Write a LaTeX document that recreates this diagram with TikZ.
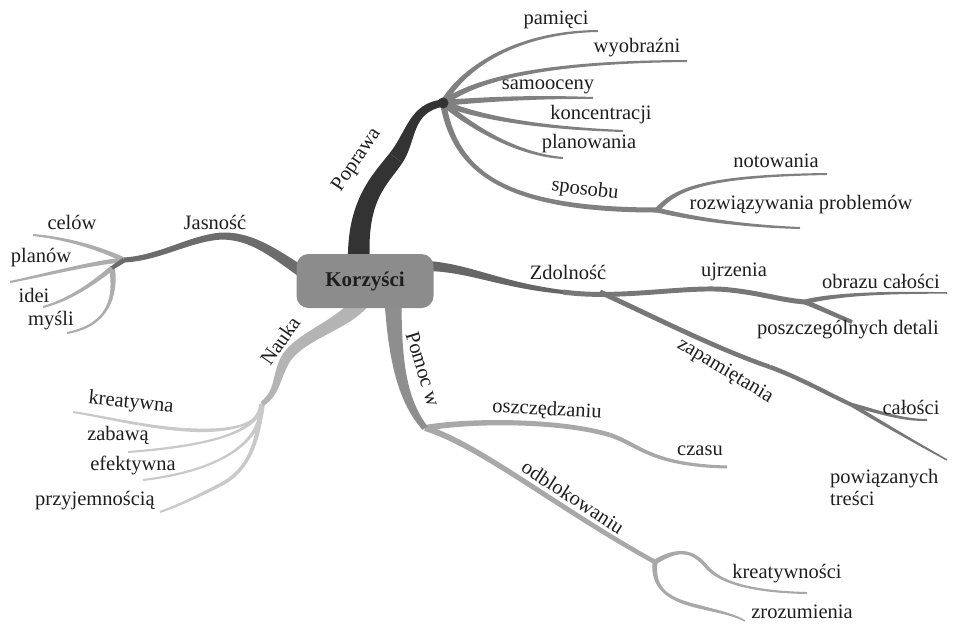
\documentclass[tikz,border=0pt]{standalone}
\usepackage{fontspec}
\setmainfont{Liberation Serif}
\newfontfamily\lblfont{Liberation Serif}
\usetikzlibrary{calc}
\definecolor{txt}{HTML}{1E1E1E}
\definecolor{cPop}{HTML}{333333}
\definecolor{cPopK}{HTML}{808080}
\definecolor{cJas}{HTML}{6C6C6C}
\definecolor{cJasK}{HTML}{ADADAD}
\definecolor{cZd}{HTML}{666666}
\definecolor{cZdK}{HTML}{777777}
\definecolor{cPom}{HTML}{8E8E8E}
\definecolor{cPomK}{HTML}{A8A8A8}
\definecolor{cNau}{HTML}{B4B4B4}
\definecolor{cNauK}{HTML}{C9C9C9}
\definecolor{cBox}{HTML}{8C8C8C}
% tapered cubic: start, control1, control2, end, width at start, width at end, colour
\newcommand\taper[7]{%
  \pgfmathsetmacro\tpa{#5/2}\pgfmathsetmacro\tpb{(2*#5+#6)/6}%
  \pgfmathsetmacro\tpc{(#5+2*#6)/6}\pgfmathsetmacro\tpd{#6/2}%
  \fill[#7] ($(#1)!\tpa pt!90:(#2)$) .. controls ($(#2)!\tpb pt!-90:(#1)$) and ($(#3)!\tpc pt!90:(#4)$) .. ($(#4)!\tpd pt!-90:(#3)$)
    -- ($(#4)!\tpd pt!90:(#3)$) .. controls ($(#3)!\tpc pt!-90:(#4)$) and ($(#2)!\tpb pt!90:(#1)$) .. ($(#1)!\tpa pt!-90:(#2)$) -- cycle;}
\tikzset{
  lbl/.style={font=\lblfont\fontsize{20.5}{22}\selectfont, text=txt, inner sep=0pt},
  centerbox/.style={draw=none, fill=cBox, rounded corners=12pt, minimum width=137pt, minimum height=54pt,
    font=\lblfont\fontsize{21}{24}\selectfont\bfseries, text=txt, inner sep=0pt}
}
\begin{document}
\begin{tikzpicture}[x=1pt,y=-1pt]
\useasboundingbox (0,0) rectangle (955,624);

% ---------- junction coordinates ----------
\coordinate (P0) at (359,264);
\coordinate (Pm) at (396,158);
\coordinate (P1) at (443,103);
\coordinate (S) at (657,210);
\coordinate (J0) at (302,272);
\coordinate (Jh) at (222,236);
\coordinate (J1) at (124,260);
\coordinate (J2) at (112,268);
\coordinate (Z0) at (428,266);
\coordinate (Z1) at (563,292);
\coordinate (Uj) at (730,290);
\coordinate (U) at (805,302);
\coordinate (Zp) at (600,292);
\coordinate (Za) at (770,367);
\coordinate (Zc) at (852,405);
\coordinate (M0) at (393,300);
\coordinate (M) at (425,428);
\coordinate (Os) at (610,435);
\coordinate (O) at (655,562);
\coordinate (Kt) at (705,565);
\coordinate (Zr) at (700,607);
\coordinate (N0) at (362,300);
\coordinate (Nm) at (285,360);
\coordinate (N) at (262,404);
\coordinate (K1) at (190,430);
\coordinate (Pz) at (220,485);

% ---------- end coordinates ----------
\coordinate (ePam) at (598,31);
\coordinate (eWyo) at (687,61);
\coordinate (eSam) at (593,98);
\coordinate (eKon) at (623,131);
\coordinate (ePla) at (563,158);
\coordinate (eNot) at (827,174);
\coordinate (eRoz) at (800,228);
\coordinate (eCel) at (33,235);
\coordinate (ePln) at (10,282);
\coordinate (eIde) at (43,307);
\coordinate (eMys) at (67,333);
\coordinate (eObr) at (947,293);
\coordinate (ePos) at (852,322);
\coordinate (eCal) at (927,420);
\coordinate (ePow) at (947,460);
\coordinate (eCza) at (727,467);
\coordinate (eKrt) at (807,593);
\coordinate (eZro) at (745,621);
\coordinate (eKre) at (73,412);
\coordinate (eZab) at (128,452);
\coordinate (eEfe) at (143,480);
\coordinate (ePrz) at (160,512);

% ---------- Nauka ----------
\taper{N}{262,425}{230,432}{K1}{5}{3.5}{cNauK}
\taper{K1}{150,428}{110,418}{eKre}{3.5}{2}{cNauK}
\taper{N}{258,430}{220,445}{eZab}{5}{2}{cNauK}
\taper{N}{262,440}{225,470}{eEfe}{5}{2}{cNauK}
\taper{N}{258,440}{250,470}{Pz}{5}{3.5}{cNauK}
\taper{Pz}{200,495}{180,505}{ePrz}{3.5}{2}{cNauK}
\taper{N0}{345,325}{300,335}{Nm}{17}{10}{cNau}
\taper{Nm}{275,380}{278,392}{N}{10}{5}{cNau}

% ---------- Pomoc w ----------
\taper{M}{470,420}{560,420}{Os}{6}{4.5}{cPomK}
\taper{Os}{640,445}{650,465}{eCza}{4.5}{3}{cPomK}
\taper{M}{480,445}{560,510}{O}{6}{4.5}{cPomK}
\taper{O}{675,550}{690,548}{Kt}{5}{3.5}{cPomK}
\taper{Kt}{720,585}{760,592}{eKrt}{3.5}{2}{cPomK}
\taper{O}{652,590}{670,600}{Zr}{5}{3.5}{cPomK}
\taper{Zr}{720,612}{735,615}{eZro}{3.5}{1.5}{cPomK}
\taper{M0}{395,360}{402,400}{M}{17}{6}{cPom}

% ---------- Zdolnosc ----------
\taper{U}{830,295}{880,292}{eObr}{5}{1.5}{cZdK}
\taper{U}{820,308}{835,315}{ePos}{5}{4}{cZdK}
\taper{Z1}{620,300}{690,285}{Uj}{5}{5}{cZdK}
\taper{Uj}{760,293}{780,300}{U}{5}{5}{cZdK}
\taper{Zp}{660,320}{720,350}{Za}{5}{4.5}{cZdK}
\taper{Za}{800,378}{830,395}{Zc}{4.5}{4}{cZdK}
\taper{Zc}{885,425}{920,445}{ePow}{4}{1.5}{cZdK}
\taper{Zc}{880,412}{900,420}{eCal}{4}{2}{cZdK}
\taper{Z0}{470,268}{500,285}{Z1}{10}{4}{cZd}

% ---------- Jasnosc ----------
\taper{J1}{100,248}{65,238}{eCel}{5}{2}{cJasK}
\taper{J1}{95,262}{45,275}{ePln}{5}{2}{cJasK}
\taper{J2}{95,282}{70,300}{eIde}{5}{2}{cJasK}
\taper{J2}{116,295}{110,325}{eMys}{6}{2}{cJasK}
\taper{J0}{270,250}{250,236}{Jh}{11}{7}{cJas}
\taper{Jh}{190,238}{160,258}{J1}{7}{5}{cJas}
\taper{J1}{120,263}{116,265}{J2}{5}{4}{cJas}

% ---------- Poprawa ----------
\taper{P1}{465,65}{520,32}{ePam}{6}{2}{cPopK}
\taper{P1}{475,80}{540,62}{eWyo}{6}{2}{cPopK}
\taper{P1}{500,98}{550,97}{eSam}{6}{2}{cPopK}
\taper{P1}{480,118}{540,128}{eKon}{6}{2}{cPopK}
\taper{P1}{475,130}{520,155}{ePla}{6}{2}{cPopK}
\taper{P1}{455,170}{500,210}{S}{6}{5}{cPopK}
\taper{S}{675,190}{700,176}{eNot}{5}{2}{cPopK}
\taper{S}{690,218}{740,226}{eRoz}{5}{2}{cPopK}
\taper{P0}{356,200}{380,180}{Pm}{22}{16}{cPop}
\taper{Pm}{412,136}{410,108}{P1}{16}{7}{cPop}
\fill[cPop] (P1) circle[radius=5.5pt];

% ---------- centre ----------
\node[centerbox] (K) at (365,281) {Korzyści};

% ---------- labels ----------
\node[lbl, rotate=56] (tPop) at (357,160) {Poprawa};
\node[lbl] (tPam) at (556,20) {pamięci};
\node[lbl] (tWyo) at (637,48) {wyobraźni};
\node[lbl] (tSam) at (548,87) {samooceny};
\node[lbl] (tKon) at (601,115) {koncentracji};
\node[lbl] (tPla) at (589,144) {planowania};
\node[lbl, rotate=-7] (tSpo) at (585,190) {sposobu};
\node[lbl] (tNot) at (776,161) {notowania};
\node[lbl] (tRoz) at (801,205) {rozwiązywania problemów};

\node[lbl] (tJas) at (215,222) {Jasność};
\node[lbl] (tCel) at (72,222) {celów};
\node[lbl] (tPln) at (41,258) {planów};
\node[lbl] (tIde) at (34,295) {idei};
\node[lbl] (tMys) at (51,321) {myśli};

\node[lbl] (tZdo) at (568,272) {Zdolność};
\node[lbl] (tUjr) at (734,272) {ujrzenia};
\node[lbl] (tObr) at (881,281) {obrazu całości};
\node[lbl] (tPos) at (848,330) {poszczególnych detali};
\node[lbl, rotate=-31] (tZap) at (725,371) {zapamiętania};
\node[lbl] (tCal) at (911,407) {całości};
\node[lbl, align=left, anchor=north west] (tPow) at (830,469) {powiązanych\\treści};

\node[lbl, rotate=-73] (tPom) at (423,369) {Pomoc w};
\node[lbl, rotate=-3] (tOsz) at (547,410) {oszczędzaniu};
\node[lbl] (tCza) at (700,451) {czasu};
\node[lbl, rotate=-33] (tOdb) at (573,497) {odblokowaniu};
\node[lbl] (tKrt) at (787,574) {kreatywności};
\node[lbl] (tZro) at (802,612) {zrozumienia};

\node[lbl, rotate=55] (tNau) at (280,341) {Nauka};
\node[lbl, rotate=-6] (tKre) at (131,403) {kreatywna};
\node[lbl] (tZab) at (118,435) {zabawą};
\node[lbl] (tEfe) at (133,465) {efektywna};
\node[lbl] (tPrz) at (95,501) {przyjemnością};
\end{tikzpicture}
\end{document}
